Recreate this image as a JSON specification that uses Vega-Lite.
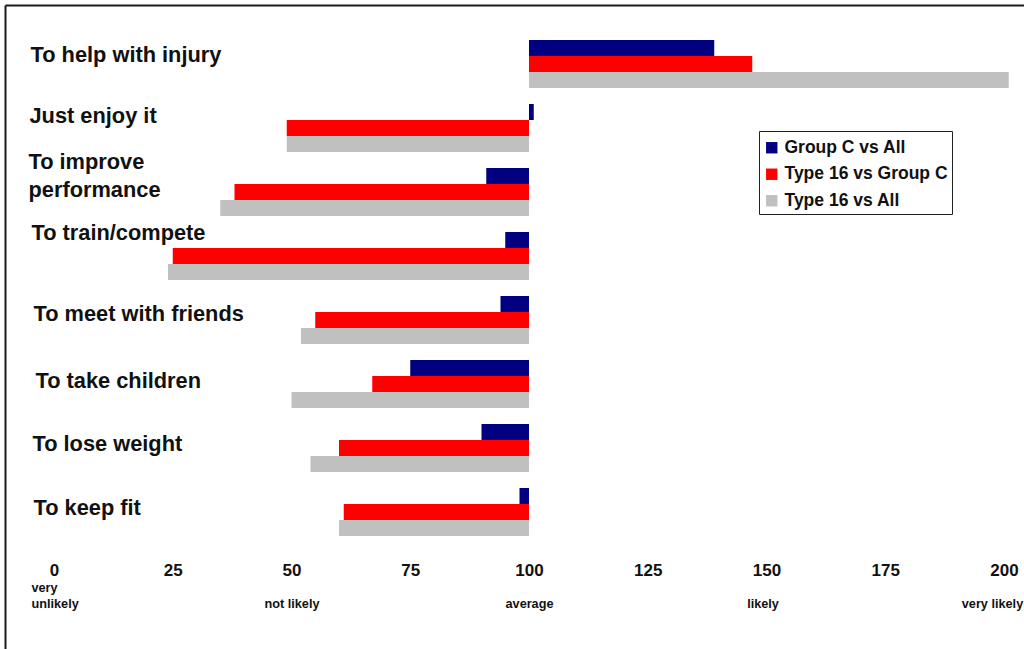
{
  "$schema": "https://vega.github.io/schema/vega-lite/v6.json",
  "width": 1019,
  "height": 644,
  "autosize": {"type": "none"},
  "padding": {"left": 5, "top": 5, "right": 0, "bottom": 0},
  "background": "white",
  "config": {"view": {"stroke": null}, "font": "Liberation Sans"},
  "datasets": {
    "reasons": [
      {"reason": "To help with injury", "series": "Group C vs All", "score": 139},
      {"reason": "To help with injury", "series": "Type 16 vs Group C", "score": 147},
      {"reason": "To help with injury", "series": "Type 16 vs All", "score": 201},
      {"reason": "Just enjoy it", "series": "Group C vs All", "score": 101},
      {"reason": "Just enjoy it", "series": "Type 16 vs Group C", "score": 49},
      {"reason": "Just enjoy it", "series": "Type 16 vs All", "score": 49},
      {"reason": "To improve performance", "series": "Group C vs All", "score": 91},
      {"reason": "To improve performance", "series": "Type 16 vs Group C", "score": 38},
      {"reason": "To improve performance", "series": "Type 16 vs All", "score": 35},
      {"reason": "To train/compete", "series": "Group C vs All", "score": 95},
      {"reason": "To train/compete", "series": "Type 16 vs Group C", "score": 25},
      {"reason": "To train/compete", "series": "Type 16 vs All", "score": 24},
      {"reason": "To meet with friends", "series": "Group C vs All", "score": 94},
      {"reason": "To meet with friends", "series": "Type 16 vs Group C", "score": 55},
      {"reason": "To meet with friends", "series": "Type 16 vs All", "score": 52},
      {"reason": "To take children", "series": "Group C vs All", "score": 75},
      {"reason": "To take children", "series": "Type 16 vs Group C", "score": 67},
      {"reason": "To take children", "series": "Type 16 vs All", "score": 50},
      {"reason": "To lose weight", "series": "Group C vs All", "score": 90},
      {"reason": "To lose weight", "series": "Type 16 vs Group C", "score": 60},
      {"reason": "To lose weight", "series": "Type 16 vs All", "score": 54},
      {"reason": "To keep fit", "series": "Group C vs All", "score": 98},
      {"reason": "To keep fit", "series": "Type 16 vs Group C", "score": 61},
      {"reason": "To keep fit", "series": "Type 16 vs All", "score": 60}
    ],
    "scaleMarks": [
      {"pos": 0, "desc": "very unlikely"},
      {"pos": 50, "desc": "not likely"},
      {"pos": 100, "desc": "average"},
      {"pos": 150, "desc": "likely"},
      {"pos": 200, "desc": "very likely"}
    ]
  },
  "layer": [
    {
      "data": {"name": "reasons"},
      "mark": {"type": "bar"},
      "encoding": {
        "y": {
          "field": "reason",
          "type": "nominal",
          "sort": null,
          "scale": {
            "domain": ["To help with injury", "Just enjoy it", "To improve performance", "To train/compete", "To meet with friends", "To take children", "To lose weight", "To keep fit", " "],
            "paddingInner": 0.25,
            "paddingOuter": 0.65625,
            "align": 0.41667
          },
          "axis": {
            "title": null,
            "orient": "left",
            "grid": false,
            "domain": true,
            "domainColor": "#1a1a1a",
            "domainWidth": 2,
            "ticks": false,
            "tickSize": 0,
            "labelAlign": "left",
            "labelBaseline": "middle",
            "labelFont": "Liberation Sans",
            "labelFontSize": 21.8,
            "labelFontWeight": "bold",
            "labelColor": "#111111",
            "labelLimit": 400,
            "labelLineHeight": 27.5,
            "labelExpr": "datum.value == 'To improve performance' ? ['To improve', 'performance'] : datum.value == ' ' ? '' : datum.value",
            "labelPadding": {
              "condition": [
                {"test": "datum.value == 'Just enjoy it'", "value": -24},
                {"test": "datum.value == 'To improve performance'", "value": -23},
                {"test": "datum.value == 'To train/compete'", "value": -26},
                {"test": "datum.value == 'To meet with friends'", "value": -28},
                {"test": "datum.value == 'To take children'", "value": -30},
                {"test": "datum.value == 'To lose weight'", "value": -27},
                {"test": "datum.value == 'To keep fit'", "value": -28}
              ],
              "value": -25
            },
            "labelOffset": {
              "condition": [
                {"test": "datum.value == 'To help with injury'", "value": -9},
                {"test": "datum.value == 'Just enjoy it'", "value": -12},
                {"test": "datum.value == 'To improve performance'", "value": -30},
                {"test": "datum.value == 'To train/compete'", "value": -23},
                {"test": "datum.value == 'To meet with friends'", "value": -6},
                {"test": "datum.value == 'To take children'", "value": -3},
                {"test": "datum.value == 'To lose weight'", "value": -4}
              ],
              "value": -4
            }
          }
        },
        "yOffset": {
          "field": "series",
          "type": "nominal",
          "scale": {"domain": ["Group C vs All", "Type 16 vs Group C", "Type 16 vs All"], "paddingInner": 0, "paddingOuter": 0}
        },
        "x": {
          "field": "score",
          "type": "quantitative",
          "scale": {"domain": [-10.3158, 204.21], "nice": false, "zero": false},
          "axis": {
            "title": null,
            "orient": "bottom",
            "offset": -79,
            "values": [0, 25, 50, 75, 100, 125, 150, 175, 200],
            "grid": false,
            "domain": false,
            "ticks": false,
            "tickSize": 0,
            "labelPadding": 0,
            "labelBaseline": "middle",
            "labelFont": "Liberation Sans",
            "labelFontSize": 17,
            "labelFontWeight": "bold",
            "labelColor": "#111111",
            "labelFlush": false,
            "labelOverlap": false
          }
        },
        "x2": {"datum": 100},
        "color": {
          "field": "series",
          "type": "nominal",
          "scale": {
            "domain": ["Group C vs All", "Type 16 vs Group C", "Type 16 vs All"],
            "range": ["#000080", "#FF0000", "#C0C0C0"]
          },
          "legend": {
            "title": " ",
            "titleFontSize": 4,
            "titlePadding": 0,
            "orient": "none",
            "legendX": 754,
            "legendY": 126,
            "direction": "vertical",
            "fillColor": "white",
            "strokeColor": "#222222",
            "padding": 4,
            "symbolType": "square",
            "symbolSize": 130,
            "symbolStrokeWidth": 0,
            "labelFont": "Liberation Sans",
            "labelFontSize": 17.5,
            "labelFontWeight": "bold",
            "labelColor": "#111111",
            "labelOffset": 4,
            "labelLimit": 300,
            "rowPadding": 7.5
          }
        }
      }
    },
    {
      "data": {"name": "scaleMarks"},
      "mark": {"type": "point", "opacity": 0, "size": 1},
      "encoding": {
        "x": {
          "field": "pos",
          "type": "quantitative",
          "scale": {"domain": [-10.3158, 204.21], "nice": false, "zero": false},
          "axis": {
            "title": null,
            "orient": "bottom",
            "offset": -39,
            "values": [0, 50, 100, 150, 200],
            "grid": false,
            "domain": false,
            "ticks": false,
            "tickSize": 0,
            "labelPadding": {"condition": {"test": "datum.value == 0", "value": -16}, "value": 0},
            "labelBaseline": "bottom",
            "labelFont": "Liberation Sans",
            "labelFontSize": 12.7,
            "labelFontWeight": "bold",
            "labelColor": "#111111",
            "labelLineHeight": 16,
            "labelFlush": false,
            "labelOverlap": false,
            "labelExpr": "datum.value == 0 ? ['very', 'unlikely'] : datum.value == 50 ? 'not likely' : datum.value == 100 ? 'average' : datum.value == 150 ? 'likely' : 'very likely'",
            "labelAlign": {"condition": {"test": "datum.value == 0", "value": "left"}, "value": "center"},
            "labelOffset": {
              "condition": [
                {"test": "datum.value == 0", "value": -23},
                {"test": "datum.value == 150", "value": -4},
                {"test": "datum.value == 200", "value": -12}
              ],
              "value": 0
            }
          }
        }
      }
    },
    {
      "data": {"name": "scaleMarks"},
      "mark": {"type": "point", "opacity": 0, "size": 1},
      "encoding": {
        "x": {
          "field": "pos",
          "type": "quantitative",
          "scale": {"domain": [-10.3158, 204.21], "nice": false, "zero": false},
          "axis": {
            "title": null,
            "orient": "top",
            "grid": false,
            "domain": true,
            "domainColor": "#1a1a1a",
            "domainWidth": 2,
            "ticks": false,
            "labels": false
          }
        }
      }
    }
  ],
  "resolve": {"axis": {"x": "independent"}}
}
